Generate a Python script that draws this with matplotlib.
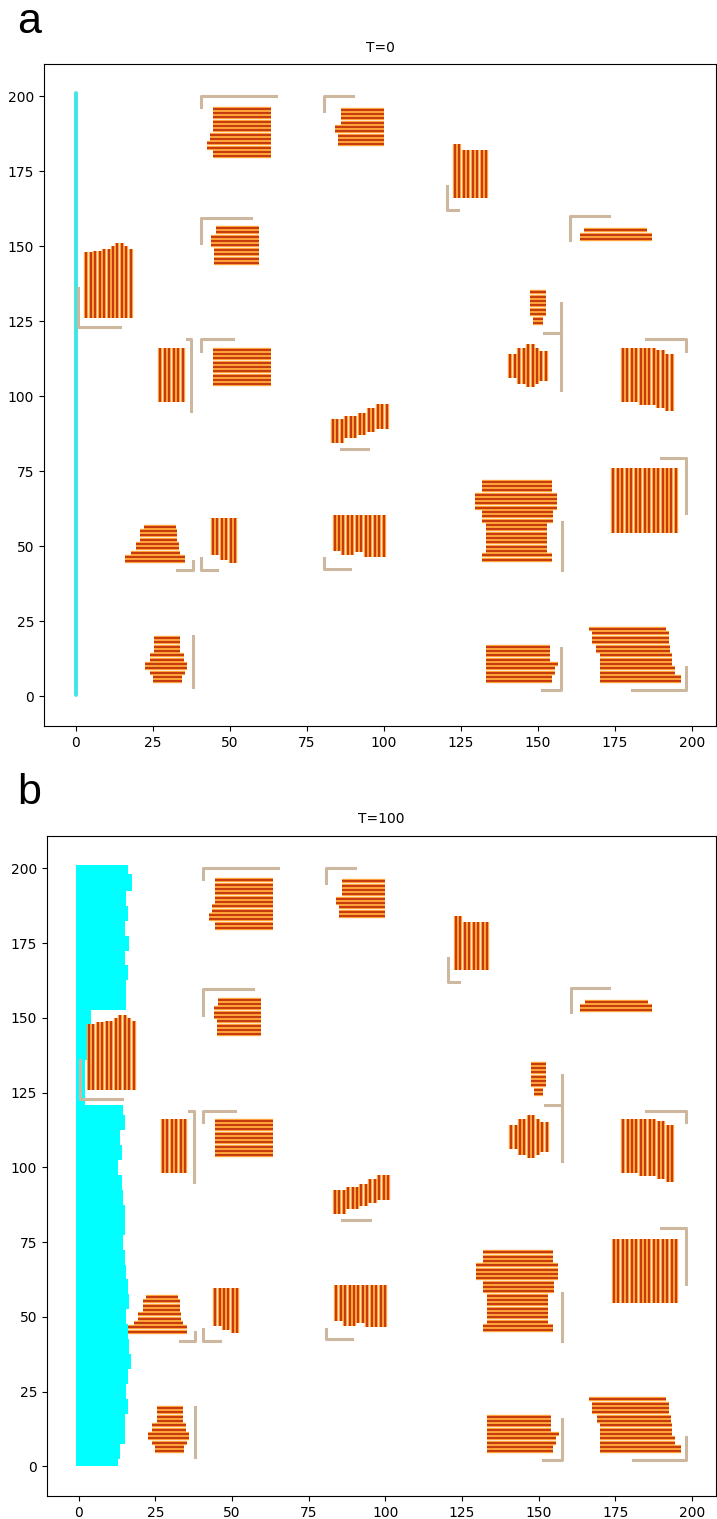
import numpy as np
import matplotlib.pyplot as plt

# fibre bundles: orientation and bands (lo, hi, start, end)
# 'h' -> rows at y in [lo, hi] spanning x start..end
# 'v' -> columns at x in [lo, hi] spanning y start..end
bundle_dir = ['h', 'h', 'v', 'h', 'h', 'v', 'h', 'v', 'h', 'v',
              'v', 'v', 'h', 'v', 'v', 'h', 'v', 'h', 'h', 'h']
bundle_bands = [
    [(180, 182.5, 44.5, 63.5), (182.5, 185.5, 42.5, 63.5), (185.5, 188, 43.5, 63.5), (188, 197.2, 44.5, 63.5)],
    [(184, 187, 85, 100), (187, 191, 84, 100), (191, 197, 86, 100)],
    [(123, 124.5, 166, 184), (124.5, 134.5, 166, 182)],
    [(144.5, 149, 45, 59.5), (149, 154, 44, 59.5), (154, 157, 45.5, 59.5)],
    [(152.5, 154, 163.5, 187), (154, 156.5, 165, 185.5)],
    [(3.4, 6, 126, 148), (6, 9, 126, 148.5), (9, 11, 126, 149), (11, 13, 126, 150),
     (13, 15, 126, 151), (15, 17, 126, 150), (17, 18.4, 126, 149)],
    [(124.5, 127, 148.5, 151.5), (127, 136, 147.5, 152.5)],
    [(27.5, 35, 98, 116)],
    [(104, 117, 44.5, 63.5)],
    [(141, 143, 106, 114), (143, 146, 104, 116), (146, 149, 103, 117.5), (149, 151, 104, 116), (151, 153, 105, 115)],
    [(177.5, 183, 98, 116), (183, 188, 97, 116), (188, 191, 96, 115.5), (191, 194.5, 95, 114)],
    [(83.5, 87, 84.5, 92.5), (87, 91, 86, 93.5), (91, 95, 87, 94.5), (95, 98, 88, 96), (98, 101, 89, 97.5)],
    [(45, 47, 16, 35.5), (47, 49, 18, 34), (49, 52, 19.5, 33.5), (52, 55.5, 21, 33), (55.5, 57.5, 22, 32.5)],
    [(44.5, 46.5, 47, 59.5), (46.5, 49, 45.5, 59.5), (49, 52, 44.5, 59.5)],
    [(84, 86, 48.5, 60.5), (86, 90, 47, 60.5), (90, 94, 48, 60.5), (94, 101, 46.5, 60.5)],
    [(45.5, 48, 132, 154.5), (48, 58, 133, 153), (58, 62, 132, 155), (62, 68, 129.5, 156.2), (68, 72, 132, 154.5)],
    [(174.5, 195, 54.5, 76)],
    [(5, 7, 25, 34.5), (7, 9, 24, 35.5), (9, 11.5, 22.5, 36), (11.5, 14, 24, 35), (14, 19.5, 25.5, 34)],
    [(5, 7, 133, 154.5), (7, 9.5, 133, 155.5), (9.5, 12, 133, 156.5), (12, 17.5, 133, 154)],
    [(5, 7, 170, 196.5), (7, 10, 170, 194.5), (10, 14, 170, 193.5), (14, 18, 169, 193),
     (18, 21, 167.5, 192.5), (21, 23.5, 166.5, 191.5)],
]

# anchor brackets (polyline x, y)
bracket_x = [[65, 40.5, 40.5], [90, 80.5, 80.5], [124, 120.5, 120.5], [57, 40.5, 40.5],
             [173, 160.5, 160.5], [14.3, 0.6, 0.6], [152, 157.5, 157.5], [36, 37.5, 37.5],
             [51, 40.5, 40.5], [157.5, 157.5], [185, 198, 198], [86, 95],
             [33, 38, 38], [46, 40.5, 40.5], [89, 80.5, 80.5], [157.7, 157.7],
             [190, 198, 198], [37.9, 37.9], [151.4, 157.6, 157.6], [180.6, 198, 198]]
bracket_y = [[200, 200, 196.5], [200, 200, 195], [162, 162, 170], [159.5, 159.5, 151],
             [160, 160, 152], [123, 123, 136], [121, 121, 131], [119, 119, 95],
             [119, 119, 115], [102, 121], [119, 119, 115], [82.5, 82.5],
             [42, 42, 45], [42, 42, 46], [42.5, 42.5, 46], [58, 42],
             [79.6, 79.6, 61], [20, 3], [2, 2, 16], [2, 2, 9.8]]

# fluid front at T=100: right edge of the cyan region
front_y = [0, 5, 10, 15, 20, 25, 30, 35, 40, 45, 50, 55, 60, 65, 70, 75, 80, 85, 90, 95,
           100, 105, 110, 115, 120, 122, 125, 130, 135, 137, 140, 145, 150, 155, 160,
           165, 170, 175, 180, 185, 190, 195, 201]
front_x = [13, 13.5, 15, 15, 16, 15.5, 16, 17, 16.5, 16, 15.5, 16.5, 16, 15.5, 15, 14.5, 15, 15, 14.5, 14,
           13, 14, 13.5, 15, 14.5, 2, 2, 2, 2, 3.5, 3.5, 3.5, 4, 15.5, 15.5,
           16, 15, 16.5, 15, 16, 15.5, 17.5, 16]

titles = ['T=0', 'T=100']
panel_tags = ['a', 'b']

RED = '#c0320a'
ORANGE = '#ffa238'
PITCH = 1.45


def draw_bundle(ax, orient, bands):
    lo = min(b[0] for b in bands)
    hi = max(b[1] for b in bands)
    for p in np.arange(lo, hi + 1e-6, PITCH):
        for b in bands:
            if b[0] <= p <= b[1]:
                if orient == 'h':
                    xs, ys = [b[2], b[3]], [p, p]
                else:
                    xs, ys = [p, p], [b[2], b[3]]
                ax.plot(xs, ys, color=ORANGE, lw=3.1, zorder=2, solid_capstyle='butt')
                ax.plot(xs, ys, color=RED, lw=1.3, zorder=3, solid_capstyle='butt')
                break


fig = plt.figure(figsize=(7.17, 15.19), dpi=100)
ax_a = fig.add_axes([44 / 717, 1 - 726 / 1519, 672 / 717, 662 / 1519])
ax_b = fig.add_axes([47 / 717, 1 - 1496 / 1519, 669 / 717, 660 / 1519])

for i, ax in enumerate([ax_a, ax_b]):
    if i == 0:
        ax.plot([0, 0], [0.3, 201], color='#3ee6e6', lw=2.8, solid_capstyle='round', zorder=1)
    else:
        ax.fill_betweenx(front_y, -0.7, front_x, step='mid', color='#00ffff', lw=0, zorder=1)
    for bx, by in zip(bracket_x, bracket_y):
        ax.plot(bx, by, color='#cdb79e', lw=2.2, zorder=1)
    for orient, bands in zip(bundle_dir, bundle_bands):
        draw_bundle(ax, orient, bands)
    ax.set_xlim(-10.3, 207.8)
    ax.set_ylim(-9.9, 210.8)
    ax.set_xticks(np.arange(0, 201, 25))
    ax.set_yticks(np.arange(0, 201, 25))
    ax.set_title(titles[i], fontsize=10, pad=9)

fig.text(17 / 717, 1 - 33 / 1519, panel_tags[0], fontsize=31, family='Liberation Sans', va='baseline')
fig.text(17 / 717, 1 - 804 / 1519, panel_tags[1], fontsize=31, family='Liberation Sans', va='baseline')

fig.savefig('out.png', dpi=100)
